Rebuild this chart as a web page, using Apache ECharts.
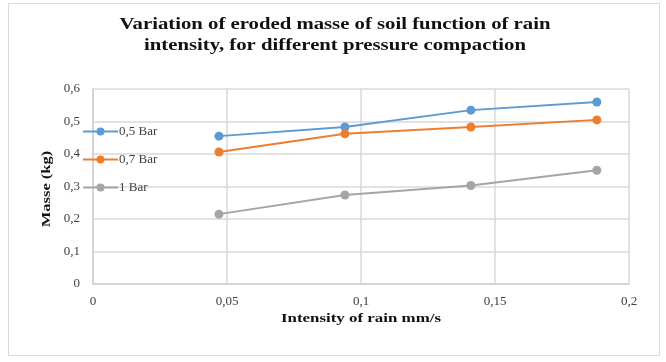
<!DOCTYPE html>
<html><head><meta charset="utf-8">
<script src="https://cdn.jsdelivr.net/npm/echarts@6/dist/echarts.min.js"></script>
<style>html,body{margin:0;padding:0;background:#fff}#c{width:666px;height:362px}</style>
</head><body><div id="c"></div>
<script>
var intensity = [0.047, 0.094, 0.141, 0.188];
var bar05 = [0.455, 0.483, 0.535, 0.560];
var bar07 = [0.406, 0.462, 0.483, 0.505];
var bar1 = [0.215, 0.274, 0.303, 0.350];
var seriesNames = ['0,5 Bar', '0,7 Bar', '1 Bar'];
var colors = ['#5B9BD5', '#ED7D31', '#A5A5A5'];
var titleLines = ['Variation of eroded masse of soil function of rain', 'intensity, for different pressure compaction'];
var xName = 'Intensity of rain mm/s';
var yName = 'Masse (kg)';

function pairs(ys){ return intensity.map(function(x,i){return [x, ys[i]];}); }
function comma(v){ return String(+v.toFixed(2)).replace('.', ','); }
var serif = '"Liberation Serif", "Times New Roman", serif';
function label(text, x, y, size, sx, rot){
  return {type:'text', x:x, y:y, scaleX:sx, rotation: rot || 0, z: 10,
    style:{text:text, font:'bold ' + size + 'px ' + serif, fill:'#111',
      align:'center', verticalAlign:'middle', textAlign:'center', textVerticalAlign:'middle'}};
}
var chart = echarts.init(document.getElementById('c'));
var data = [bar05, bar07, bar1];
chart.setOption({
  animation: false,
  color: colors,
  graphic: [
    {type:'rect', shape:{x:8.5,y:3.5,width:651,height:352}, style:{fill:'none', stroke:'#d9d9d9', lineWidth:1}, z:-1},
    label(titleLines[0], 335, 25, 17, 1.22),
    label(titleLines[1], 335, 46, 17, 1.22),
    label(xName, 361, 319, 13, 1.3),
    label(yName, 47, 189, 13, 1.27, Math.PI/2)
  ],
  legend: {orient:'vertical', left: 77, top: 120, itemGap: 15, itemWidth: 35, itemHeight: 10,
    textStyle:{fontFamily: serif, fontSize:13, color:'#404040', padding:[0,0,0,-4]}, data: seriesNames},
  grid: {left: 93, right: 37, top: 89, bottom: 78},
  xAxis: {type:'value', min:0, max:0.2, interval:0.05,
    axisLine:{show:true, lineStyle:{color:'#d0d0d0', width:1.5}}, axisTick:{show:false},
    splitLine:{show:true, lineStyle:{color:'#d9d9d9', width:1.5}},
    axisLabel:{fontFamily: serif, fontSize:13, color:'#404040', margin:11, formatter: comma}},
  yAxis: {type:'value', min:0, max:0.6, interval:0.1,
    axisLine:{show:true, lineStyle:{color:'#d0d0d0', width:1.5}}, axisTick:{show:false},
    splitLine:{show:true, lineStyle:{color:'#d9d9d9', width:1.5}},
    axisLabel:{fontFamily: serif, fontSize:13, color:'#404040', margin:13, formatter: comma}},
  series: seriesNames.map(function(n,i){
    return {name:n, type:'line', data: pairs(data[i]), symbol:'circle', symbolSize:9,
      lineStyle:{width:2, color: colors[i]}, itemStyle:{color: colors[i]}};
  })
});
</script></body></html>
